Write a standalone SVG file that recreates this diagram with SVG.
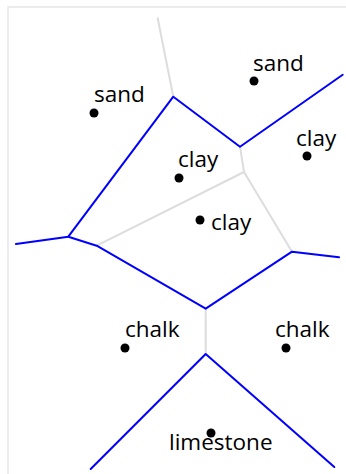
<svg xmlns="http://www.w3.org/2000/svg" width="346" height="474" viewBox="0 0 346 474">
<style>
.frame{fill:none;stroke:#e6e6e6;stroke-width:1.5}
.inner{fill:none;stroke:#dddddd;stroke-width:2;stroke-linecap:round;stroke-linejoin:round}
.bound{fill:none;stroke:#0000ff;stroke-width:2;stroke-linecap:round;stroke-linejoin:round}
.dot{fill:#000}
.lbl{font-family:"Open Sans","Noto Sans",sans-serif;font-size:22.5px;fill:#000}
</style>
<rect class="frame" x="8" y="7" width="345" height="475"/>
<g id="connectors">
<polyline class="inner" points="157.7,18.3 173.3,96.7"/>
<polyline class="inner" points="240,146.7 244,172 96.7,245.7"/>
<polyline class="inner" points="244,172 292,251.7"/>
<polyline class="inner" points="205.7,308.7 205.7,354"/>
<polyline class="bound" points="16,244 68.3,236.7 173.3,96.7 240,146.7 342.7,74.7"/>
<polyline class="bound" points="68.3,236.7 96.7,245.7 205.7,308.7 292,251.7 339,257.3"/>
<polyline class="bound" points="90.7,469 205.7,354 334.3,467"/>
</g>
<g id="sand1"><circle class="dot" cx="94" cy="113" r="4.5"/><text class="lbl" x="94" y="102">sand</text></g>
<g id="sand2"><circle class="dot" cx="254" cy="81" r="4.5"/><text class="lbl" x="253" y="71">sand</text></g>
<g id="clay3"><circle class="dot" cx="307" cy="156" r="4.5"/><text class="lbl" x="296" y="146">clay</text></g>
<g id="clay1"><circle class="dot" cx="179" cy="178" r="4.5"/><text class="lbl" x="178" y="167">clay</text></g>
<g id="clay2"><circle class="dot" cx="200" cy="220" r="4.5"/><text class="lbl" x="211" y="230">clay</text></g>
<g id="chalk1"><circle class="dot" cx="125" cy="348" r="4.5"/><text class="lbl" x="125" y="337">chalk</text></g>
<g id="chalk2"><circle class="dot" cx="286" cy="348" r="4.5"/><text class="lbl" x="275" y="337">chalk</text></g>
<g id="limestone"><circle class="dot" cx="211" cy="433" r="4.5"/><text class="lbl" x="169" y="450">limestone</text></g>
</svg>
